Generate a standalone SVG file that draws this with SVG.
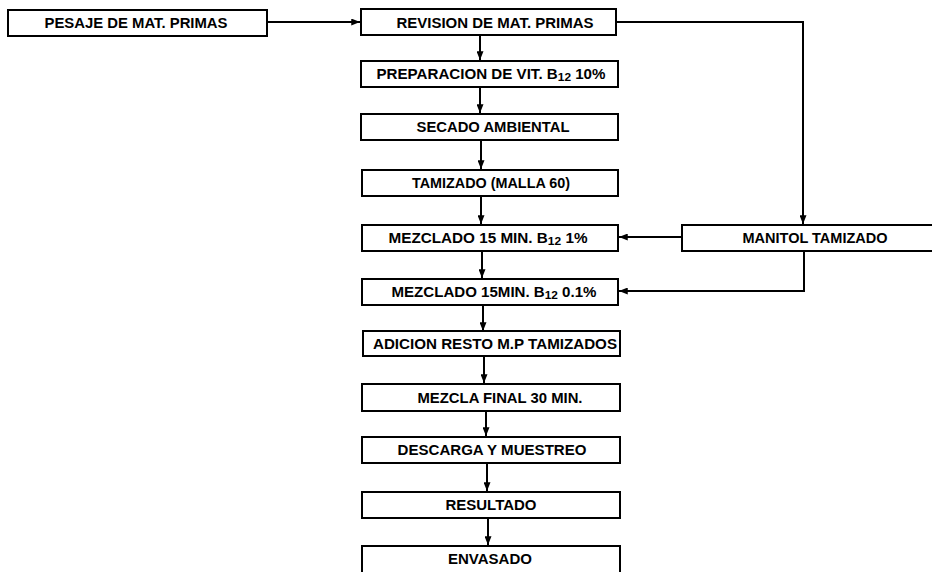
<svg xmlns="http://www.w3.org/2000/svg" width="932" height="572" viewBox="0 0 932 572">
<style>
.box{fill:#fff;stroke:#000;stroke-width:2}
.t{font-family:"Liberation Sans",Arial,sans-serif;font-weight:bold;font-size:14px;fill:#000;text-anchor:middle}
.s{font-size:11px}
.c{fill:none;stroke:#000;stroke-width:2}
</style>
<defs>
<marker id="ah" viewBox="0 0 10 8" refX="10" refY="4" markerWidth="9" markerHeight="7" markerUnits="userSpaceOnUse" orient="auto">
<path d="M0,0 L10,4 L0,8 Z" fill="#000"/>
</marker>
</defs>
<rect width="932" height="572" fill="#fff"/>
<g id="connectors">
<path class="c" d="M267,22 H360" marker-end="url(#ah)"/>
<path class="c" d="M480,35 V60" marker-end="url(#ah)"/>
<path class="c" d="M480,87 V113" marker-end="url(#ah)"/>
<path class="c" d="M481,140 V169" marker-end="url(#ah)"/>
<path class="c" d="M481,196 V224" marker-end="url(#ah)"/>
<path class="c" d="M482,251 V278" marker-end="url(#ah)"/>
<path class="c" d="M483,305 V331" marker-end="url(#ah)"/>
<path class="c" d="M484,356 V383" marker-end="url(#ah)"/>
<path class="c" d="M486,411 V436" marker-end="url(#ah)"/>
<path class="c" d="M487,463 V491" marker-end="url(#ah)"/>
<path class="c" d="M488,518 V545" marker-end="url(#ah)"/>
<path class="c" d="M616,22 H803 V224" marker-end="url(#ah)"/>
<path class="c" d="M682,237 H619" marker-end="url(#ah)"/>
<path class="c" d="M804,251 V291 H619" marker-end="url(#ah)"/>
</g>
<g id="pesaje"><rect class="box" x="8" y="10" width="259" height="26"/><text class="t" x="136" y="28" textLength="183" lengthAdjust="spacingAndGlyphs">PESAJE DE MAT. PRIMAS</text></g>
<g id="revision"><rect class="box" x="361" y="9" width="255" height="26"/><text class="t" x="495" y="28" textLength="197" lengthAdjust="spacingAndGlyphs">REVISION DE MAT. PRIMAS</text></g>
<g id="preparacion"><rect class="box" x="361" y="61" width="257" height="26"/><text class="t" x="491" y="79" textLength="229" lengthAdjust="spacingAndGlyphs">PREPARACION DE VIT. B<tspan class="s" dy="2">12</tspan><tspan dy="-2"> 10%</tspan></text></g>
<g id="secado"><rect class="box" x="361" y="114" width="257" height="26"/><text class="t" x="493" y="132" textLength="153" lengthAdjust="spacingAndGlyphs">SECADO AMBIENTAL</text></g>
<g id="tamizado"><rect class="box" x="362" y="170" width="256" height="26"/><text class="t" x="491" y="188" textLength="158" lengthAdjust="spacingAndGlyphs">TAMIZADO (MALLA 60)</text></g>
<g id="mezclado1"><rect class="box" x="362" y="225" width="256" height="26"/><text class="t" x="488" y="243" textLength="199" lengthAdjust="spacingAndGlyphs">MEZCLADO 15 MIN. B<tspan class="s" dy="2">12</tspan><tspan dy="-2"> 1%</tspan></text></g>
<g id="manitol"><rect class="box" x="682" y="225" width="260" height="26"/><text class="t" x="815" y="243" textLength="145" lengthAdjust="spacingAndGlyphs">MANITOL TAMIZADO</text></g>
<g id="mezclado2"><rect class="box" x="362" y="279" width="256" height="26"/><text class="t" x="494" y="297" textLength="205" lengthAdjust="spacingAndGlyphs">MEZCLADO 15MIN. B<tspan class="s" dy="2">12</tspan><tspan dy="-2"> 0.1%</tspan></text></g>
<g id="adicion"><rect class="box" x="363" y="331" width="257" height="25"/><text class="t" x="495" y="349" textLength="244" lengthAdjust="spacingAndGlyphs">ADICION RESTO M.P TAMIZADOS</text></g>
<g id="mezcla-final"><rect class="box" x="362" y="384" width="258" height="27"/><text class="t" x="500" y="403" textLength="165" lengthAdjust="spacingAndGlyphs">MEZCLA FINAL 30 MIN.</text></g>
<g id="descarga"><rect class="box" x="362" y="437" width="258" height="26"/><text class="t" x="492" y="455" textLength="189" lengthAdjust="spacingAndGlyphs">DESCARGA Y MUESTREO</text></g>
<g id="resultado"><rect class="box" x="362" y="492" width="258" height="26"/><text class="t" x="491" y="510" textLength="91" lengthAdjust="spacingAndGlyphs">RESULTADO</text></g>
<g id="envasado"><rect class="box" x="362" y="546" width="258" height="28"/><text class="t" x="490" y="564" textLength="84" lengthAdjust="spacingAndGlyphs">ENVASADO</text></g>
</svg>
